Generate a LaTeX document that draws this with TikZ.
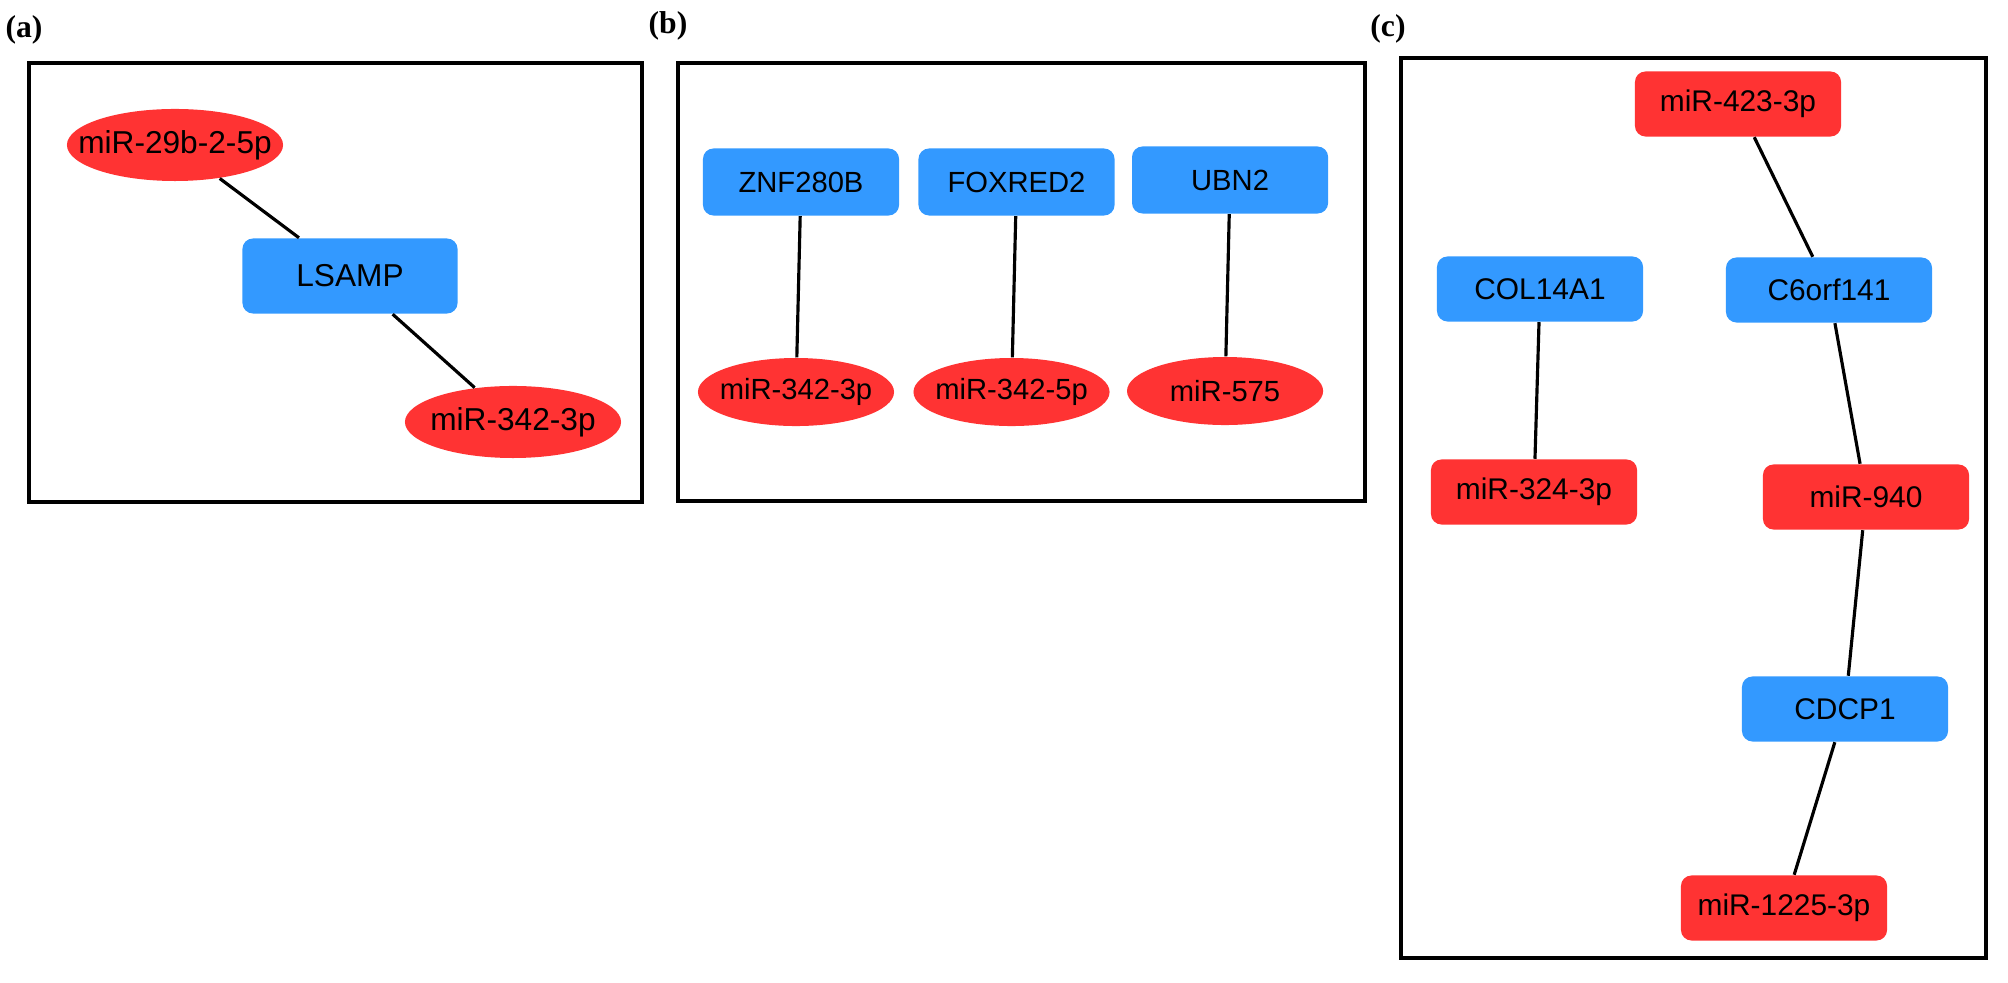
\documentclass[tikz,border=0pt]{standalone}
\usepackage{fontspec}
\setmainfont{Liberation Sans}
\newfontfamily\panelfont{Liberation Serif}
\usetikzlibrary{positioning,shapes.geometric}
\definecolor{mirred}{HTML}{FF3333}
\definecolor{geneblue}{HTML}{3399FF}
\newcommand\mirtext[1]{\makebox[0pt]{#1}}
\tikzset{
    gene/.style={rectangle,rounded corners=3pt,fill=geneblue,inner sep=0pt,
        minimum width=2.15cm,minimum height=0.75cm},
    mirell/.style={ellipse,fill=mirred,inner sep=0pt,
        minimum width=2.16cm,minimum height=0.72cm},
    mirbox/.style={rectangle,rounded corners=3pt,fill=mirred,inner sep=0pt,
        minimum width=2.06cm,minimum height=0.65cm},
    panel/.style={draw,line width=1.2pt},
    tag/.style={font=\panelfont\bfseries\fontsize{9}{10}\selectfont}
}

\begin{document}
\begin{tikzpicture}[x=0.01cm,y=-0.01cm,every edge/.style={draw,line width=0.9pt}]
    \useasboundingbox (0,0) rectangle (2008,983);
    % (a)
    \node[tag] (taga) at (24,30) {(a)};
    \draw[panel] (29,63) rectangle (642,502);
    \begin{scope}[font=\fontsize{9}{10}\selectfont]
        \node[mirell] (mira)  at (175,145) {\mirtext{miR-29b-2-5p}};
        \node[gene]   (lsamp) at (350,276) {LSAMP};
        \node[mirell] (mirb)  at (513,422) {\mirtext{miR-342-3p}};
    \end{scope}
    % (b)
    \node[tag] (tagb) at (668,26) {(b)};
    \draw[panel] (678,63) rectangle (1365,501);
    \begin{scope}[font=\fontsize{8.3}{10}\selectfont,
            gene/.append style={minimum width=1.96cm,minimum height=0.67cm},
            mirell/.append style={minimum width=1.96cm,minimum height=0.68cm}]
        \node[gene] (znf) at (801,182) {ZNF280B};
        \node[gene] (foxred) [right=0.18cm of znf] {FOXRED2};
        \node[gene] (ubn) [right=0.16cm of foxred, yshift=0.02cm] {UBN2};
        \node[mirell] (mirc) [below=1.41cm of znf, xshift=-0.05cm] {\mirtext{miR-342-3p}};
        \node[mirell] (mird) [below=1.41cm of foxred, xshift=-0.05cm] {\mirtext{miR-342-5p}};
        \node[mirell] (mire) [below=1.42cm of ubn, xshift=-0.05cm] {\mirtext{miR-575}};
    \end{scope}
    % (c)
    \node[tag] (tagc) at (1388,29) {(c)};
    \draw[panel] (1401,58) rectangle (1986,958);
    \begin{scope}[font=\fontsize{8.5}{10}\selectfont,
            gene/.append style={minimum width=2.06cm,minimum height=0.65cm}]
        \node[mirbox] (mirf) at (1738,104) {miR-423-3p};
        \node[gene]   (col)  at (1540,289) {COL14A1};
        \node[gene]   (corf) at (1829,290) {C6orf141};
        \node[mirbox] (mirg) at (1534,492) {miR-324-3p};
        \node[mirbox] (mirh) at (1866,497) {miR-940};
        \node[gene]   (cdcp) at (1845,709) {CDCP1};
        \node[mirbox] (miri) at (1784,908) {miR-1225-3p};
    \end{scope}
    \path
        (mira) edge (lsamp)
        (lsamp) edge (mirb)
        (znf) edge (mirc)
        (foxred) edge (mird)
        (ubn) edge (mire)
        (mirf) edge (corf)
        (corf) edge (mirh)
        (mirh) edge (cdcp)
        (cdcp) edge (miri)
        (col) edge (mirg)
    ;
\end{tikzpicture}
\end{document}
